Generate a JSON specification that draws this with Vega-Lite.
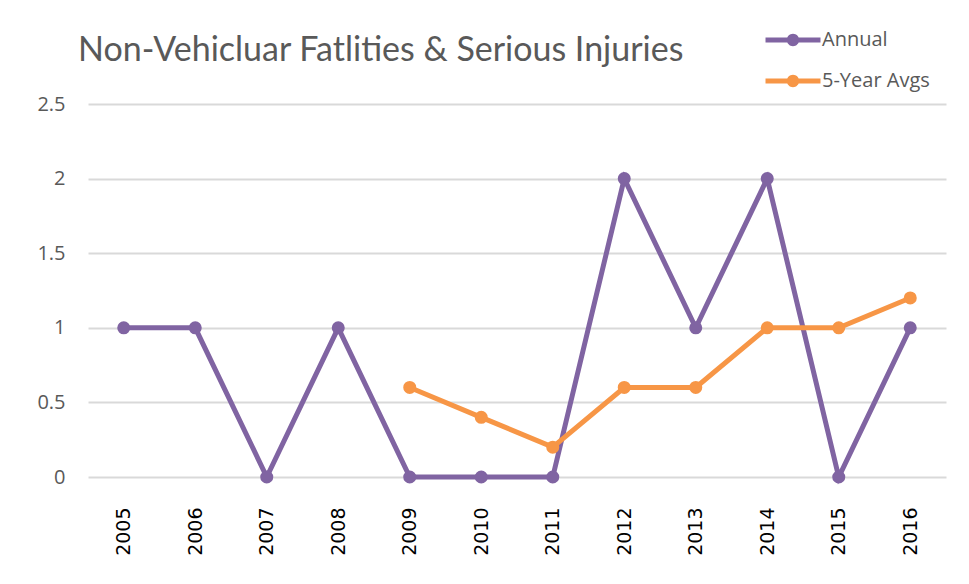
{
  "$schema": "https://vega.github.io/schema/vega-lite/v6.json",
  "autosize": "none",
  "width": 858,
  "height": 373,
  "padding": {"left": 88, "top": 104, "right": 23, "bottom": 107},
  "background": "white",
  "config": {"view": {"stroke": null}},
  "title": {
    "text": "Non-Vehicluar Fatlities & Serious Injuries",
    "anchor": "start",
    "frame": "group",
    "dx": -10,
    "offset": -69,
    "baseline": "alphabetic",
    "font": "Lato",
    "fontSize": 34,
    "fontWeight": "normal",
    "color": "#595959"
  },
  "data": {
    "values": [
      {"year": "2005", "series": "Annual", "value": 1},
      {"year": "2006", "series": "Annual", "value": 1},
      {"year": "2007", "series": "Annual", "value": 0},
      {"year": "2008", "series": "Annual", "value": 1},
      {"year": "2009", "series": "Annual", "value": 0},
      {"year": "2010", "series": "Annual", "value": 0},
      {"year": "2011", "series": "Annual", "value": 0},
      {"year": "2012", "series": "Annual", "value": 2},
      {"year": "2013", "series": "Annual", "value": 1},
      {"year": "2014", "series": "Annual", "value": 2},
      {"year": "2015", "series": "Annual", "value": 0},
      {"year": "2016", "series": "Annual", "value": 1},
      {"year": "2009", "series": "5-Year Avgs", "value": 0.6},
      {"year": "2010", "series": "5-Year Avgs", "value": 0.4},
      {"year": "2011", "series": "5-Year Avgs", "value": 0.2},
      {"year": "2012", "series": "5-Year Avgs", "value": 0.6},
      {"year": "2013", "series": "5-Year Avgs", "value": 0.6},
      {"year": "2014", "series": "5-Year Avgs", "value": 1},
      {"year": "2015", "series": "5-Year Avgs", "value": 1},
      {"year": "2016", "series": "5-Year Avgs", "value": 1.2}
    ]
  },
  "mark": {"type": "line", "strokeWidth": 5, "point": {"filled": true, "size": 170}},
  "encoding": {
    "x": {
      "field": "year",
      "type": "ordinal",
      "scale": {"padding": 0.5},
      "axis": {
        "title": null,
        "labelAngle": -90,
        "labelAlign": "right",
        "labelBaseline": "middle",
        "labelPadding": 30,
        "labelFont": "DejaVu Sans",
        "labelFontSize": 19,
        "labelColor": "#000000",
        "domain": false,
        "ticks": false,
        "grid": false
      }
    },
    "y": {
      "field": "value",
      "type": "quantitative",
      "scale": {"domain": [0, 2.5], "nice": false},
      "axis": {
        "title": null,
        "values": [0, 0.5, 1, 1.5, 2, 2.5],
        "format": "~g",
        "grid": true,
        "gridColor": "#d9d9d9",
        "gridWidth": 2,
        "domain": false,
        "ticks": false,
        "labelPadding": 23,
        "labelFont": "Open Sans",
        "labelFontSize": 20,
        "labelColor": "#595959"
      }
    },
    "color": {
      "field": "series",
      "type": "nominal",
      "sort": ["Annual", "5-Year Avgs"],
      "scale": {"domain": ["Annual", "5-Year Avgs"], "range": ["#8064a2", "#f79646"]},
      "legend": {
        "title": null,
        "orient": "none",
        "legendX": 677,
        "legendY": -78,
        "padding": 0,
        "symbolType": "M-2,-0.18 L-0.4,-0.18 L-0.4,0.18 L-2,0.18 Z M0.4,-0.18 L2,-0.18 L2,0.18 L0.4,0.18 Z M-0.45,0 A0.45,0.45 0 1,1 0.45,0 A0.45,0.45 0 1,1 -0.45,0 Z",
        "symbolSize": 756,
        "symbolStrokeWidth": 0,
        "symbolOffset": 14,
        "labelOffset": 15,
        "rowPadding": 17,
        "labelFont": "Open Sans",
        "labelFontSize": 20,
        "labelColor": "#595959",
        "encode": {
          "symbols": {
            "update": {
              "fill": {"field": "value", "scale": "color"},
              "stroke": {"value": "transparent"},
              "opacity": {"value": 1}
            }
          }
        }
      }
    },
    "order": {"field": "year"}
  }
}
